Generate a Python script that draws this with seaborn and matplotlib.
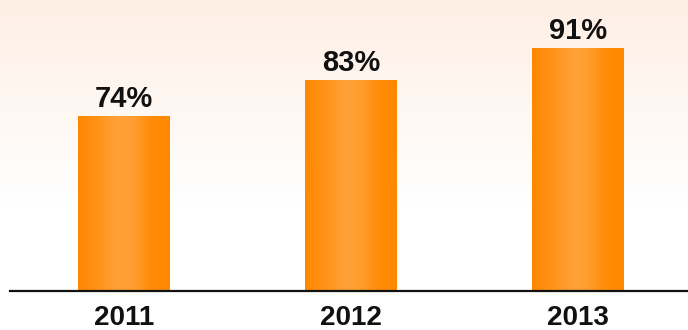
import numpy as np
import pandas as pd
import matplotlib
matplotlib.use("Agg")
import matplotlib.pyplot as plt
import seaborn as sns
from matplotlib.colors import LinearSegmentedColormap

years = ["2011", "2012", "2013"]
values = [74, 83, 91]
labels = ["74%", "83%", "91%"]

sns.set_style("white")
plt.rcParams["font.family"] = ["Liberation Sans", "DejaVu Sans"]

W, H, DPI = 688, 330, 100
fig = plt.figure(figsize=(W / DPI, H / DPI), dpi=DPI)

# background gradient (peach at top fading to white)
bg = fig.add_axes([0, 0, 1, 1], zorder=0)
rows = np.linspace(0, 1, H)
top = np.array([254, 239, 228]) / 255.0
frac = np.clip(rows * H / 205.0, 0, 1)[:, None]
grad = top * (1 - frac) + np.ones(3) * frac
bg.imshow(np.repeat(grad[:, None, :], 2, axis=1), aspect="auto", extent=[0, 1, 0, 1], origin="upper")
bg.set_axis_off()

base_px = 291
ax = fig.add_axes([10 / W, (H - base_px) / H, 1 - 10 / W, base_px / H], zorder=1)
ax.patch.set_alpha(0)

df = pd.DataFrame({"year": years, "value": values})
sns.barplot(data=df, x="year", y="value", color="#ff8a00", width=0.405,
            saturation=1, ax=ax, edgecolor="none")

ax.set_ylim(30.25, 30.25 + base_px / 4.0)
ax.set_xlim(-0.502, 2.485)

# horizontal gradient inside bars
cmap = LinearSegmentedColormap.from_list(
    "barg", [(0.0, "#ff8800"), (0.2, "#ff9218"), (0.45, "#ffa23a"), (0.6, "#ff9e30"),
             (0.8, "#ff8c08"), (1.0, "#ff8800")])
gx = np.linspace(0, 1, 200)[None, :]
for p in ax.patches:
    x0, y0 = p.get_x(), p.get_y()
    w, h = p.get_width(), p.get_height()
    im = ax.imshow(gx, cmap=cmap, aspect="auto", extent=[x0, x0 + w, ax.get_ylim()[0], y0 + h],
                   zorder=2)
    im.set_clip_path(p)
ax.set_xlim(-0.502, 2.485)
ax.set_ylim(30.25, 30.25 + base_px / 4.0)

ax.bar_label(ax.containers[0], labels=labels, padding=2, fontsize=21,
             fontweight="bold", color="#111111")

for s in ["top", "right", "left"]:
    ax.spines[s].set_visible(False)
ax.spines["bottom"].set_color("#111111")
ax.spines["bottom"].set_linewidth(1.6)
ax.set_yticks([])
ax.tick_params(axis="x", length=0, pad=10, labelsize=20)
for t in ax.get_xticklabels():
    t.set_fontweight("bold")
    t.set_color("#111111")
ax.set_xlabel("")
ax.set_ylabel("")

fig.savefig("out.png", dpi=DPI)
